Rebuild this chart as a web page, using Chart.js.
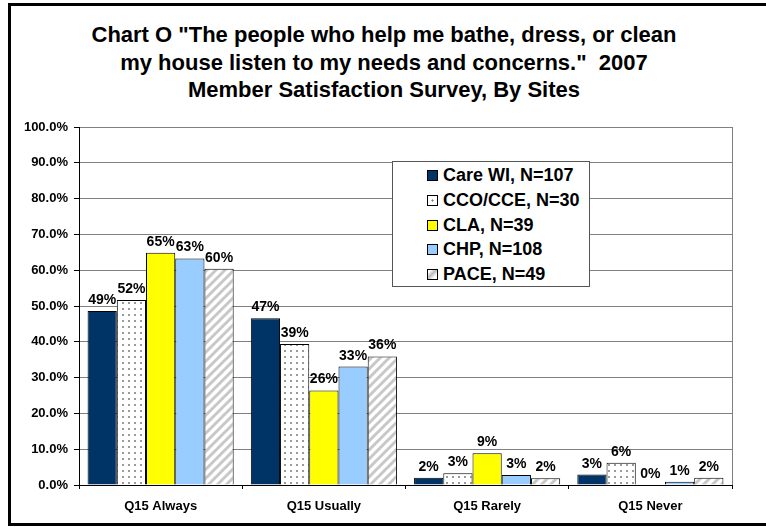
<!DOCTYPE html>
<html><head><meta charset="utf-8">
<script src="https://cdn.jsdelivr.net/npm/chart.js@4/dist/chart.umd.min.js"></script>
<style>
html,body{margin:0;padding:0;background:#fff;}
#wrap{position:relative;width:766px;height:527px;overflow:hidden;font-family:"Liberation Sans",Arial,sans-serif;}
#frame{position:absolute;left:8px;top:3px;width:800px;height:523px;border:3px solid #000;box-sizing:border-box;}
#title{position:absolute;left:0;top:21px;width:768px;text-align:center;font-weight:bold;font-size:22px;line-height:27.5px;color:#000;}
canvas{position:absolute;left:0;top:0;}
#legend{position:absolute;left:392px;top:161px;width:198px;height:126px;border:1px solid #555;box-sizing:border-box;background:#fff;}
.item{position:absolute;left:34px;height:20px;display:flex;align-items:center;font-weight:bold;font-size:18px;white-space:nowrap;color:#000;}
.sw{width:11px;height:11px;border:1px solid #000;box-sizing:border-box;margin-right:5px;flex:none;}
</style>
</head><body>
<div id="wrap">
  <div id="frame"></div>
  <div id="title">Chart O "The people who help me bathe, dress, or clean<br>my house listen to my needs and concerns."&nbsp; 2007<br>Member Satisfaction Survey, By Sites</div>
  <canvas id="c" width="766" height="527"></canvas>
  <div id="legend"></div>
</div>
<script>
const categories = ['Q15 Always', 'Q15 Usually', 'Q15 Rarely', 'Q15 Never'];
const seriesNames = ['Care WI, N=107', 'CCO/CCE, N=30', 'CLA, N=39', 'CHP, N=108', 'PACE, N=49'];
const careWI = [48.6, 46.6, 2.0, 2.9];
const ccoCce = [51.7, 39.4, 3.3, 6.2];
const cla    = [64.9, 26.4, 8.9, 0.0];
const chp    = [63.3, 33.1, 2.8, 0.9];
const pace   = [60.4, 35.9, 1.9, 2.0];
const yTicks = [0, 10, 20, 30, 40, 50, 60, 70, 80, 90, 100];

const FONT = '"Liberation Sans", Arial, sans-serif';

function dotPattern(){
  const c = document.createElement('canvas'); c.width = 6; c.height = 6;
  const g = c.getContext('2d');
  g.fillStyle = '#fff'; g.fillRect(0,0,6,6);
  g.fillStyle = '#9a9a9a'; g.fillRect(2,2,2,2);
  return g.createPattern(c, 'repeat');
}
function stripePattern(){
  const s = 9;
  const c = document.createElement('canvas'); c.width = s; c.height = s;
  const g = c.getContext('2d');
  g.fillStyle = '#fff'; g.fillRect(0,0,s,s);
  g.strokeStyle = '#c8c8c8'; g.lineWidth = 3;
  g.beginPath();
  g.moveTo(0,s); g.lineTo(s,0);
  g.moveTo(-s/2,s/2); g.lineTo(s/2,-s/2);
  g.moveTo(s/2,s*1.5); g.lineTo(s*1.5,s/2);
  g.stroke();
  return g.createPattern(c, 'repeat');
}

const seriesData = [careWI, ccoCce, cla, chp, pace];
const fills = ['#003366', dotPattern(), '#FFFF00', '#99CCFF', stripePattern()];
const swatchCss = [
  'background:#003366',
  'background:#fff radial-gradient(circle at 50% 50%, #777 0.8px, transparent 1.3px)',
  'background:#FFFF00',
  'background:#99CCFF',
  'background:linear-gradient(135deg,#fff 15%,#bbb 45%,#fff 75%)'
];

// HTML legend
const leg = document.getElementById('legend');
const rowTops = [3, 28, 53, 77, 102];
seriesNames.forEach((n, i) => {
  const d = document.createElement('div');
  d.className = 'item'; d.style.top = rowTops[i] + 'px';
  d.innerHTML = '<span class="sw" style="' + swatchCss[i] + '"></span>' + n;
  leg.appendChild(d);
});

const valueLabels = {
  id: 'valueLabels',
  afterDatasetsDraw(chart){
    const ctx = chart.ctx;
    ctx.save();
    ctx.font = 'bold 14px ' + FONT;
    ctx.fillStyle = '#000';
    ctx.textAlign = 'center';
    ctx.textBaseline = 'alphabetic';
    chart.data.datasets.forEach((ds, i) => {
      chart.getDatasetMeta(i).data.forEach((bar, j) => {
        ctx.fillText(Math.round(ds.data[j]) + '%', bar.x, bar.y - 7);
      });
    });
    ctx.restore();
  }
};
const plotEdge = {
  id: 'plotEdge',
  beforeDatasetsDraw(chart){
    const {ctx, chartArea:a} = chart;
    ctx.save();
    ctx.strokeStyle = '#808080'; ctx.lineWidth = 1;
    ctx.beginPath();
    ctx.moveTo(Math.round(a.right) + 0.5, a.top);
    ctx.lineTo(Math.round(a.right) + 0.5, a.bottom);
    ctx.stroke();
    ctx.restore();
  }
};

new Chart(document.getElementById('c'), {
  type: 'bar',
  data: {
    labels: categories,
    datasets: seriesNames.map((n, i) => ({
      label: n,
      data: seriesData[i],
      backgroundColor: fills[i],
      borderColor: '#000',
      borderWidth: 1,
      borderSkipped: 'bottom',
      barPercentage: 1.0,
      categoryPercentage: 0.895
    }))
  },
  options: {
    responsive: false,
    animation: false,
    devicePixelRatio: 1,
    layout: { padding: { left: 0, top: 127, right: 34, bottom: 0 } },
    plugins: { legend: { display: false }, title: { display: false }, tooltip: { enabled: false } },
    scales: {
      x: {
        ticks: { color: '#000', font: { family: FONT, size: 13, weight: 'bold' }, padding: 10 },
        grid: { display: true, drawOnChartArea: false, tickLength: 4, color: '#000', offset: true },
        border: { color: '#000', width: 1 },
        afterFit(s){ s.height = 42; }
      },
      y: {
        min: 0, max: 100,
        afterBuildTicks(s){ s.ticks = yTicks.map(v => ({ value: v })); },
        ticks: { color: '#000', font: { family: FONT, size: 13, weight: 'bold' }, padding: 6,
                 callback: v => v.toFixed(1) + '%' },
        grid: { color: '#808080', tickColor: '#000', tickLength: 5, lineWidth: 1 },
        border: { color: '#000', width: 1 },
        afterFit(s){ s.width = 79; }
      }
    }
  },
  plugins: [valueLabels, plotEdge]
});
</script>
</body></html>
